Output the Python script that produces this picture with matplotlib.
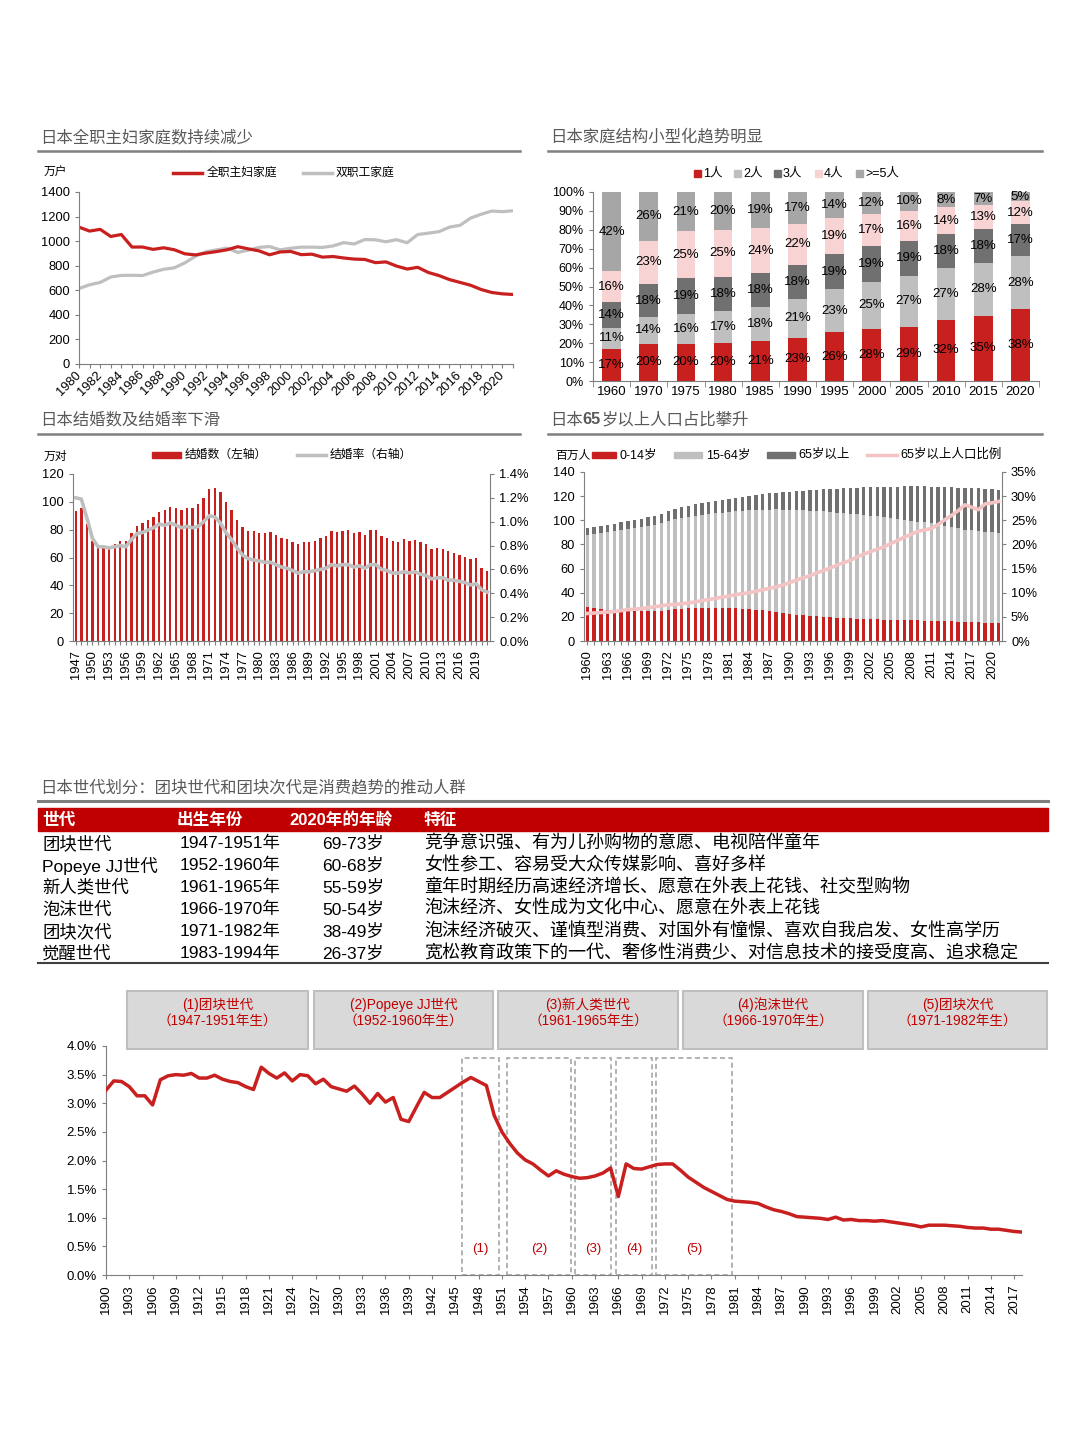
import matplotlib
matplotlib.use("Agg")
import matplotlib.pyplot as plt
from matplotlib.lines import Line2D
from matplotlib.patches import Rectangle
import numpy as np

plt.rcParams['font.family'] = ['Liberation Sans', 'Noto Sans CJK SC']

# ---------------- data ----------------
# panel 1: households (万户), 1980-2021
years1 = list(range(1980, 2022))
housewife = [1114, 1082, 1096, 1038, 1054, 952, 952, 933, 946, 930,
             897, 888, 903, 915, 930, 955, 937, 921, 889, 912,
             916, 890, 894, 870, 875, 863, 854, 851, 825, 831,
             797, 773, 787, 745, 720, 687, 664, 641, 606, 582,
             571, 566]
dual_income = [614, 645, 664, 708, 721, 722, 720, 748, 771, 783,
               823, 877, 914, 929, 943, 908, 927, 949, 956, 929,
               942, 951, 951, 949, 961, 988, 977, 1013, 1011, 995,
               1012, 987, 1054, 1065, 1077, 1114, 1129, 1188, 1219, 1245,
               1240, 1247]

# panel 2: household size shares (%)
years2 = ['1960', '1970', '1975', '1980', '1985', '1990',
          '1995', '2000', '2005', '2010', '2015', '2020']
size_names = ['1人', '2人', '3人', '4人', '>=5人']
size_1 = [17, 20, 20, 20, 21, 23, 26, 28, 29, 32, 35, 38]
size_2 = [11, 14, 16, 17, 18, 21, 23, 25, 27, 27, 28, 28]
size_3 = [14, 18, 19, 18, 18, 18, 19, 19, 19, 18, 18, 17]
size_4 = [16, 23, 25, 25, 24, 22, 19, 17, 16, 14, 13, 12]
size_5 = [42, 26, 21, 20, 19, 17, 14, 12, 10, 8, 7, 5]

# panel 3: marriages (万对) and marriage rate (%), 1947-2021
years3 = list(range(1947, 2022))
marriages = [93.4, 95.4, 84.2,
             71.5, 67.2, 67.7, 68.2, 69.8, 71.5, 71.6, 77.3, 82.7, 84.7,
             86.6, 89.0, 92.8, 93.8, 96.3, 95.5, 94.0, 95.3, 95.6, 98.4,
             102.9, 109.1, 110.0, 107.2, 100.0, 94.2, 87.2, 82.1, 79.3, 78.9,
             77.5, 77.7, 78.1, 76.3, 74.0, 73.6, 71.1, 69.6, 70.8, 70.8,
             72.2, 74.2, 75.4, 79.3, 78.3, 79.2, 79.5, 77.6, 78.5, 76.2,
             79.8, 80.0, 75.7, 74.0, 72.0, 71.4, 73.1, 72.0, 72.6, 70.8,
             70.0, 66.2, 66.9, 66.4, 64.4, 63.5, 62.1, 60.7, 58.6, 59.9,
             52.6, 50.1]
marriage_rate = [1.20, 1.19, 1.03,
                 0.86, 0.79, 0.79, 0.78, 0.79, 0.80, 0.79, 0.85, 0.90, 0.91,
                 0.93, 0.95, 0.98, 0.97, 0.99, 0.97, 0.95, 0.96, 0.95, 0.96,
                 1.00, 1.05, 1.04, 0.99, 0.91, 0.85, 0.78, 0.72, 0.69, 0.68,
                 0.67, 0.66, 0.66, 0.64, 0.62, 0.61, 0.59, 0.57, 0.58, 0.58,
                 0.59, 0.60, 0.61, 0.64, 0.63, 0.64, 0.64, 0.62, 0.63, 0.61,
                 0.64, 0.64, 0.60, 0.59, 0.57, 0.57, 0.58, 0.57, 0.58, 0.56,
                 0.55, 0.52, 0.53, 0.53, 0.51, 0.51, 0.50, 0.49, 0.47, 0.48,
                 0.43, 0.41]

# panel 4: population by age (百万人), 1960-2021
years4 = list(range(1960, 2022))
age_0_14 = [28.1, 27.2, 26.4, 25.6, 25.2, 25.2, 24.8, 24.7, 24.8, 24.8,
            24.8, 25.0, 25.8, 26.3, 26.7, 27.2, 27.5, 27.6, 27.7, 27.7,
            27.5, 27.3, 27.0, 26.7, 26.3, 26.0, 25.4, 24.8, 24.0, 23.2,
            22.5, 21.9, 21.4, 20.8, 20.4, 20.0, 19.7, 19.4, 19.1, 18.7,
            18.5, 18.3, 18.1, 17.9, 17.7, 17.5, 17.4, 17.3, 17.2, 17.0,
            16.8, 16.7, 16.6, 16.4, 16.2, 15.9, 15.8, 15.6, 15.4, 15.2,
            15.0, 14.8]
age_15_64 = [60.0, 61.6, 63.2, 64.8, 66.1, 66.9, 67.9, 68.9, 69.7, 70.6,
             71.5, 72.4, 73.7, 74.5, 75.4, 75.8, 76.4, 77.0, 77.6, 78.3,
             78.9, 79.6, 80.3, 81.1, 82.0, 82.5, 83.4, 84.1, 85.0, 85.7,
             86.1, 86.6, 86.9, 87.2, 87.2, 87.3, 87.2, 87.0, 86.9, 86.8,
             86.3, 86.1, 85.8, 85.5, 85.2, 84.5, 83.9, 83.2, 82.6, 81.9,
             81.8, 81.3, 80.2, 79.0, 77.9, 77.4, 76.5, 76.0, 75.5, 75.2,
             75.1, 74.4]
age_65 = [5.3, 5.5, 5.6, 5.8, 5.9, 6.2, 6.4, 6.6, 6.8, 7.1,
          7.4, 7.7, 8.1, 8.3, 8.5, 8.9, 9.2, 9.6, 9.9, 10.2,
          10.7, 11.0, 11.4, 11.7, 12.0, 12.5, 12.9, 13.3, 13.7, 14.3,
          15.0, 15.6, 16.3, 16.9, 17.7, 18.3, 19.0, 19.8, 20.5, 21.2,
          22.1, 22.9, 23.6, 24.3, 24.9, 25.8, 26.6, 27.5, 28.3, 29.1,
          29.5, 29.8, 30.8, 32.0, 33.1, 33.8, 34.6, 35.1, 35.5, 35.8,
          36.1, 36.3]
ratio_65 = [5.7, 5.8, 5.9, 6.0, 6.1, 6.3, 6.5, 6.6, 6.7, 6.9,
            7.1, 7.3, 7.5, 7.6, 7.7, 7.9, 8.1, 8.4, 8.6, 8.8,
            9.1, 9.3, 9.6, 9.8, 10.0, 10.3, 10.6, 10.9, 11.2, 11.6,
            12.1, 12.6, 13.1, 13.5, 14.1, 14.6, 15.1, 15.7, 16.2, 16.7,
            17.4, 18.0, 18.5, 19.0, 19.5, 20.2, 20.8, 21.5, 22.1, 22.7,
            23.0, 23.3, 24.1, 25.1, 26.0, 27.0, 28.2, 27.7, 27.2, 28.4,
            28.6, 28.9]

# table
table_title = '日本世代划分：团块世代和团块次代是消费趋势的推动人群'
table_header = ['世代', '出生年份', '2020年的年龄', '特征']
table_rows = [
    ['团块世代', '1947-1951年', '69-73岁', '竞争意识强、有为儿孙购物的意愿、电视陪伴童年'],
    ['Popeye JJ世代', '1952-1960年', '60-68岁', '女性参工、容易受大众传媒影响、喜好多样'],
    ['新人类世代', '1961-1965年', '55-59岁', '童年时期经历高速经济增长、愿意在外表上花钱、社交型购物'],
    ['泡沫世代', '1966-1970年', '50-54岁', '泡沫经济、女性成为文化中心、愿意在外表上花钱'],
    ['团块次代', '1971-1982年', '38-49岁', '泡沫经济破灭、谨慎型消费、对国外有憧憬、喜欢自我启发、女性高学历'],
    ['觉醒世代', '1983-1994年', '26-37岁', '宽松教育政策下的一代、奢侈性消费少、对信息技术的接受度高、追求稳定'],
]

# bottom chart: share (%), 1900-2018
years5 = list(range(1900, 2019))
share = [3.23, 3.39, 3.38, 3.29, 3.13, 3.13, 2.97, 3.41, 3.48, 3.50,
         3.49, 3.52, 3.44, 3.44, 3.49, 3.42, 3.38, 3.36, 3.29, 3.24,
         3.63, 3.52, 3.44, 3.53, 3.39, 3.50, 3.48, 3.34, 3.42, 3.29,
         3.25, 3.21, 3.30, 3.16, 3.00, 3.17, 3.02, 3.10, 2.72, 2.68,
         2.94, 3.19, 3.10, 3.10, 3.19, 3.28, 3.37, 3.45, 3.38, 3.31,
         2.79, 2.50, 2.30, 2.13, 2.01, 1.94, 1.83, 1.73, 1.82, 1.76,
         1.72, 1.69, 1.70, 1.73, 1.78, 1.87, 1.37, 1.94, 1.86, 1.85,
         1.89, 1.93, 1.94, 1.94, 1.83, 1.71, 1.62, 1.53, 1.46, 1.39,
         1.32, 1.29, 1.28, 1.27, 1.25, 1.19, 1.14, 1.11, 1.07, 1.02,
         1.01, 1.00, 0.99, 0.97, 1.01, 0.96, 0.97, 0.95, 0.95, 0.94,
         0.95, 0.93, 0.91, 0.89, 0.87, 0.84, 0.87, 0.87, 0.87, 0.86,
         0.85, 0.83, 0.82, 0.82, 0.80, 0.80, 0.78, 0.76, 0.75]
gen_boxes = [('(1)团块世代', '（1947-1951年生）'),
             ('(2)Popeye JJ世代', '（1952-1960年生）'),
             ('(3)新人类世代', '（1961-1965年生）'),
             ('(4)泡沫世代', '（1966-1970年生）'),
             ('(5)团块次代', '（1971-1982年生）')]
gen_labels = ['(1)', '(2)', '(3)', '(4)', '(5)']
gen_spans = [(1945.9, 1950.6), (1951.7, 1959.9), (1960.4, 1965.1),
             (1965.7, 1970.3), (1970.8, 1980.7)]

# ---------------- style ----------------
RED = '#C8201F'
BAND = '#C00000'
LGRAY = '#BFBFBF'
MGRAY = '#A6A6A6'
DGRAY = '#707070'
PINK = '#F8D3D3'
PINKLINE = '#F4C4C4'
AXC = '#7F7F7F'
TITLEC = '#595959'

W, H = 1080, 1443
fig = plt.figure(figsize=(10.8, 14.43), dpi=100)


def px_axes(l, t, r, b):
    return fig.add_axes([l / W, 1 - b / H, (r - l) / W, (b - t) / H])


def ftext(x, y, s, **kw):
    kw.setdefault('va', 'center')
    return fig.text(x / W, 1 - y / H, s, **kw)


def fline(x0, x1, y, **kw):
    fig.add_artist(Line2D([x0 / W, x1 / W], [1 - y / H, 1 - y / H],
                          transform=fig.transFigure, **kw))


def frect(l, t, r, b, **kw):
    fig.add_artist(Rectangle((l / W, 1 - b / H), (r - l) / W, (b - t) / H,
                             transform=fig.transFigure, **kw))


def style(ax, size=9):
    for s in ['top', 'right']:
        ax.spines[s].set_visible(False)
    for s in ['left', 'bottom']:
        ax.spines[s].set_color(AXC)
    ax.tick_params(colors=AXC, labelcolor='black', labelsize=size,
                   length=3, width=0.8)


def panel_title(x, y, parts, x0, x1):
    # parts: list of (text, bold) drawn one after another
    renderer = fig.canvas.get_renderer()
    cx = x
    for txt, bold in parts:
        t = ftext(cx, y, txt, fontsize=11.8, color=TITLEC,
                  fontweight='bold' if bold else 'normal')
        cx += t.get_window_extent(renderer).width
    fline(x0, x1, y + 14, color=AXC, lw=1.8)


# ---------------- panel 1 ----------------
panel_title(40, 137, [('日本全职主妇家庭数持续减少', False)], 38, 520)
ax1 = px_axes(79, 192, 513, 364)
ax1.plot(years1, dual_income, color=LGRAY, lw=2.3)
ax1.plot(years1, housewife, color=RED, lw=2.3)
ax1.set_xlim(1980, 2021)
ax1.set_ylim(0, 1400)
ax1.set_yticks(range(0, 1401, 200))
ax1.set_xticks(years1)
ax1.set_xticklabels([str(y) if (y - 1980) % 2 == 0 else '' for y in years1],
                    rotation=45, ha='right', va='center', rotation_mode='anchor')
style(ax1, size=9.3)
ftext(44, 173, '万户', fontsize=8.5)
fline(173, 202, 173, color=RED, lw=2.5)
ftext(207, 173, '全职主妇家庭', fontsize=8.5)
fline(303, 332, 173, color=LGRAY, lw=2.5)
ftext(336, 173, '双职工家庭', fontsize=8.5)

# ---------------- panel 2 ----------------
panel_title(550, 137, [('日本家庭结构小型化趋势明显', False)], 548, 1042)
ax2 = px_axes(593, 192, 1039, 381)
series2 = [size_1, size_2, size_3, size_4, size_5]
colors2 = [RED, LGRAY, DGRAY, PINK, MGRAY]
totals = np.sum(np.array(series2, dtype=float), axis=0)
xpos2 = np.arange(len(years2))
bottom = np.zeros(len(years2))
for vals, col in zip(series2, colors2):
    h = np.array(vals) / totals * 100
    ax2.bar(xpos2, h, 0.5, bottom=bottom, color=col)
    for xi, b, hh, v in zip(xpos2, bottom, h, vals):
        ax2.text(xi, b + hh / 2, f'{v}%', ha='center', va='center',
                 fontsize=9.5, color='black')
    bottom = bottom + h
ax2.set_xlim(-0.5, len(years2) - 0.5)
ax2.set_ylim(0, 100)
ax2.set_yticks(range(0, 101, 10))
ax2.set_yticklabels([f'{v}%' for v in range(0, 101, 10)])
ax2.set_xticks(xpos2)
ax2.set_xticklabels(years2)
style(ax2)
ax2.tick_params(axis='x', length=0, labelsize=9.5)
ax2.set_xticks(np.arange(-0.5, len(years2)), minor=True)
ax2.tick_params(axis='x', which='minor', length=4, color=AXC)
leg_x = [694, 734, 774, 815, 856]
for lx, name, col in zip(leg_x, size_names, colors2):
    frect(lx, 170, lx + 7, 177, color=col)
    ftext(lx + 9, 173.5, name, fontsize=9)

# ---------------- panel 3 ----------------
panel_title(40, 420, [('日本结婚数及结婚率下滑', False)], 38, 520)
ax3 = px_axes(73, 474, 490, 641)
ax3.bar(years3, marriages, width=0.42, color=RED)
ax3.set_xlim(years3[0] - 0.5, years3[-1] + 0.5)
ax3.set_ylim(0, 120)
ax3.set_yticks(range(0, 121, 20))
ax3.set_xticks(years3)
ax3.set_xticklabels([str(y) if (y - 1947) % 3 == 0 else '' for y in years3],
                    rotation=90)
style(ax3, size=9.3)
ax3b = ax3.twinx()
ax3b.plot(years3, marriage_rate, color=LGRAY, lw=2.6)
ax3b.set_ylim(0, 1.4)
rt = np.arange(0, 1.41, 0.2)
ax3b.set_yticks(rt)
ax3b.set_yticklabels([f'{v:.1f}%' for v in rt])
for s in ['top', 'left', 'bottom']:
    ax3b.spines[s].set_visible(False)
ax3b.spines['right'].set_color(AXC)
ax3b.tick_params(colors=AXC, labelcolor='black', labelsize=9.3, length=3, width=0.8)
ftext(44, 457, '万对', fontsize=8.5)
frect(152, 452, 181, 458, color=RED)
ftext(185, 455, '结婚数（左轴）', fontsize=8.5)
fline(297, 326, 455, color=LGRAY, lw=2.5)
ftext(330, 455, '结婚率（右轴）', fontsize=8.5)

# ---------------- panel 4 ----------------
panel_title(550, 420, [('日本', False), ('65', True), ('岁以上人口占比攀升', False)],
            548, 1042)
ax4 = px_axes(584, 472, 1002, 641)
b1 = np.array(age_0_14)
b2 = b1 + np.array(age_15_64)
ax4.bar(years4, age_0_14, width=0.5, color=RED)
ax4.bar(years4, age_15_64, width=0.5, bottom=b1, color=LGRAY)
ax4.bar(years4, age_65, width=0.5, bottom=b2, color=DGRAY)
ax4.set_xlim(years4[0] - 0.5, years4[-1] + 0.5)
ax4.set_ylim(0, 140)
ax4.set_yticks(range(0, 141, 20))
ax4.set_xticks(years4)
ax4.set_xticklabels([str(y) if (y - 1960) % 3 == 0 else '' for y in years4],
                    rotation=90)
style(ax4, size=9.3)
ax4b = ax4.twinx()
ax4b.plot(years4, ratio_65, color=PINKLINE, lw=2.6)
ax4b.set_ylim(0, 35)
ax4b.set_yticks(range(0, 36, 5))
ax4b.set_yticklabels([f'{v}%' for v in range(0, 36, 5)])
for s in ['top', 'left', 'bottom']:
    ax4b.spines[s].set_visible(False)
ax4b.spines['right'].set_color(AXC)
ax4b.tick_params(colors=AXC, labelcolor='black', labelsize=9.3, length=3, width=0.8)
ftext(555, 456, '百万人', fontsize=8.5)
frect(592, 452, 616, 458, color=RED)
ftext(619, 455, '0-14岁', fontsize=9)
frect(674, 452, 702, 458, color=LGRAY)
ftext(706, 455, '15-64岁', fontsize=9)
frect(767, 452, 795, 458, color=DGRAY)
ftext(798, 455, '65岁以上', fontsize=9)
fline(867, 897, 455, color=PINKLINE, lw=2.5)
ftext(900, 455, '65岁以上人口比例', fontsize=9)

# ---------------- table ----------------
ftext(40, 788, table_title, fontsize=11.8, color=TITLEC)
fline(38, 1048, 801, color=AXC, lw=2.2)
frect(38, 808, 1048, 831, color=BAND)
head_x = [42, 177, 289, 424]
for hx, htxt in zip(head_x, table_header):
    ftext(hx, 820, htxt, fontsize=12, color='white', fontweight='bold')
col_x = [42, 180, 322, 424]
col_fs = [12.5, 12.5, 12.5, 13.0]
row_y = [843.5, 865.5, 887.5, 909.5, 931.5, 953.5]
for ry, row in zip(row_y, table_rows):
    for cx, fs, cell in zip(col_x, col_fs, row):
        ftext(cx, ry, cell, fontsize=fs, color='black')
fline(38, 1048, 963, color='#404040', lw=1.5)

# ---------------- bottom chart ----------------
ax5 = px_axes(106, 1046, 1022, 1275)
for (x0, x1), lab in zip(gen_spans, gen_labels):
    ax5.add_patch(Rectangle((x0, 0), x1 - x0, 3.79, fill=False, ec=MGRAY,
                            ls=(0, (3, 2)), lw=1.2, clip_on=False))
    ax5.text((x0 + x1) / 2, 0.45, lab, ha='center', va='center',
             fontsize=9.5, color=BAND)
ax5.plot(years5, share, color=RED, lw=2.5, zorder=3)
ax5.set_xlim(1900, 2018)
ax5.set_ylim(0, 4.0)
yt = np.arange(0, 4.01, 0.5)
ax5.set_yticks(yt)
ax5.set_yticklabels([f'{v:.1f}%' for v in yt])
ax5.set_xticks(range(1900, 2018, 3))
ax5.tick_params(axis='x', rotation=90)
style(ax5, size=9.5)

box_x = [(127, 308), (314, 493), (498, 678), (683, 863), (868, 1047)]
for (l, r), (t1, t2) in zip(box_x, gen_boxes):
    frect(l, 991, r, 1049, fc='#D9D9D9', ec=LGRAY, lw=1.5)
    ftext((l + r) / 2, 1005, t1, fontsize=9.8, color=BAND, ha='center')
    ftext((l + r) / 2, 1021, t2, fontsize=9.8, color=BAND, ha='center')

fig.savefig('out.png', dpi=100, facecolor='white')
